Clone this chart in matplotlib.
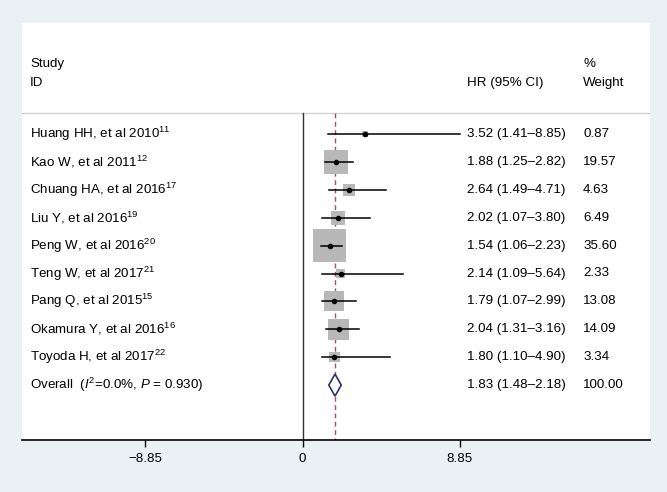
import matplotlib.pyplot as plt
import numpy as np
from matplotlib.patches import Rectangle, Polygon
import matplotlib.transforms as mtransforms

##############################################################################
# Data
##############################################################################

studies = ["Huang HH, et al 2010", "Kao W, et al 2011", "Chuang HA, et al 2016",
           "Liu Y, et al 2016", "Peng W, et al 2016", "Teng W, et al 2017",
           "Pang Q, et al 2015", "Okamura Y, et al 2016", "Toyoda H, et al 2017"]
refs = ["11", "12", "17", "19", "20", "21", "15", "16", "22"]
hr = [3.52, 1.88, 2.64, 2.02, 1.54, 2.14, 1.79, 2.04, 1.80]
ci_low = [1.41, 1.25, 1.49, 1.07, 1.06, 1.09, 1.07, 1.31, 1.10]
ci_high = [8.85, 2.82, 4.71, 3.80, 2.23, 5.64, 2.99, 3.16, 4.90]
weights = [0.87, 19.57, 4.63, 6.49, 35.60, 2.33, 13.08, 14.09, 3.34]

overall_hr = 1.83
overall_low = 1.48
overall_high = 2.18
overall_label = r"Overall  ($\mathit{I}^2$=0.0%, $\mathit{P}$ = 0.930)"

tick_values = [-8.85, 0, 8.85]
tick_labels = ["\u22128.85", "0", "8.85"]

##############################################################################
# Style
##############################################################################

plt.rcParams["font.family"] = ["Liberation Sans", "DejaVu Sans"]
plt.rcParams["mathtext.fontset"] = "custom"
plt.rcParams["mathtext.rm"] = "Liberation Sans"
plt.rcParams["mathtext.it"] = "Liberation Sans:italic"
plt.rcParams["mathtext.default"] = "regular"

bg = "#e9f1f4"
fs = 9.6

fig = plt.figure(figsize=(6.67, 4.92), dpi=100, facecolor=bg)
W, H = 667, 492
# white plot panel in pixels
left_px, right_px, top_px, bottom_px = 22, 650, 23, 440
ax = fig.add_axes([left_px / W, 1 - bottom_px / H,
                   (right_px - left_px) / W, (bottom_px - top_px) / H])
ax.set_facecolor("white")

px_per_unit = 17.77
zero_px = 302.5
row0_px = 134
row_px = 27.9

ax.set_xlim((left_px - zero_px) / px_per_unit, (right_px - zero_px) / px_per_unit)
ax.set_ylim((bottom_px - row0_px) / row_px, (top_px - row0_px) / row_px)

for s in ["top", "right", "left"]:
    ax.spines[s].set_visible(False)
ax.spines["bottom"].set_linewidth(1.2)
ax.set_yticks([])
ax.set_xticks(tick_values)
ax.set_xticklabels(tick_labels, fontsize=fs)
ax.tick_params(axis="x", length=5, width=1, pad=4)

trans = mtransforms.blended_transform_factory(ax.transAxes, ax.transData)

sep_y = (113 - row0_px) / row_px
ax.axhline(sep_y, color="#d2d2d2", lw=1)

y_bottom = ax.get_ylim()[0]
ax.plot([0, 0], [sep_y, y_bottom], color="#333333", lw=1)
ax.plot([overall_hr, overall_hr], [sep_y, y_bottom], color="#a8505c", lw=1,
        dashes=(3.5, 2.5))

# headers
x_study = (30 - left_px) / (right_px - left_px)
x_hr = (467 - left_px) / (right_px - left_px)
x_w = (583 - left_px) / (right_px - left_px)
y_h1 = (64 - row0_px) / row_px
y_h2 = (83 - row0_px) / row_px
ax.text(x_study, y_h1, "Study", transform=trans, fontsize=fs, va="center")
ax.text(x_study, y_h2, "ID", transform=trans, fontsize=fs, va="center")
ax.text(x_hr, y_h2, "HR (95% CI)", transform=trans, fontsize=fs, va="center")
ax.text(x_w, y_h1, "%", transform=trans, fontsize=fs, va="center")
ax.text(x_w, y_h2, "Weight", transform=trans, fontsize=fs, va="center")

# studies
max_side_px = 33
for i in range(len(studies)):
    y = i
    side_px = max_side_px * np.sqrt(weights[i] / max(weights))
    bw = side_px / px_per_unit
    bh = side_px / row_px
    ax.add_patch(Rectangle((hr[i] - bw / 2, y - bh / 2), bw, bh,
                           facecolor="#b8b8b8", edgecolor="none", zorder=2))
    ax.plot([ci_low[i], ci_high[i]], [y, y], color="black", lw=1.1, zorder=3)
    ax.plot(hr[i], y, marker="o", ms=3, color="black", zorder=4)
    ax.text(x_study, y, studies[i] + "$^{" + refs[i] + "}$", transform=trans,
            fontsize=fs, va="center")
    ax.text(x_hr, y, "%.2f (%.2f\u2013%.2f)" % (hr[i], ci_low[i], ci_high[i]),
            transform=trans, fontsize=fs, va="center")
    ax.text(x_w, y, "%.2f" % weights[i], transform=trans, fontsize=fs, va="center")

# overall
yo = len(studies)
dh = 11 / row_px
ax.add_patch(Polygon([(overall_low, yo), (overall_hr, yo - dh),
                      (overall_high, yo), (overall_hr, yo + dh)],
                     closed=True, facecolor="white", edgecolor="#2e2e6e",
                     lw=1.2, zorder=4))
ax.text(x_study, yo, overall_label, transform=trans, fontsize=fs, va="center")
ax.text(x_hr, yo, "%.2f (%.2f\u2013%.2f)" % (overall_hr, overall_low, overall_high),
        transform=trans, fontsize=fs, va="center")
ax.text(x_w, yo, "%.2f" % sum(weights), transform=trans, fontsize=fs, va="center")

fig.savefig("out.png", dpi=100, facecolor=bg)
